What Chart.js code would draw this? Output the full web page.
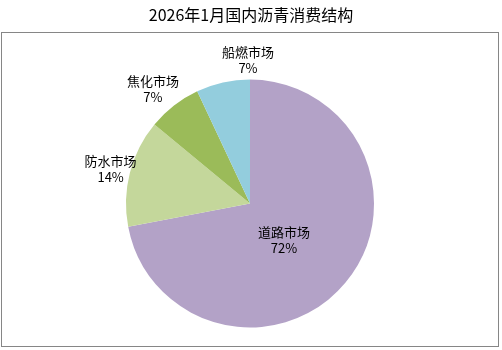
<!DOCTYPE html>
<html>
<head>
<meta charset="utf-8">
<script src="https://cdn.jsdelivr.net/npm/chart.js@4"></script>
<style>
  body { margin: 0; background: #fff; }
  canvas { display: block; }
</style>
</head>
<body>
<canvas id="pieChart" width="502" height="350"></canvas>
<script>
// Data
const TITLE = '2026年1月国内沥青消费结构';
const categories = ['道路市场', '防水市场', '焦化市场', '船燃市场'];
const shares = [72, 14, 7, 7];
const colors = ['#b3a2c7', '#c4d79b', '#9bbb59', '#93cddd'];

// Label placement per slice: distance from centre (x outer radius) and angle nudge (deg)
const labelPlacement = [
    { r: 0.405, shift: 7.8 },
    { r: 1.157, shift: -0.7 },
    { r: 1.21, shift: -2.5 },
    { r: 1.157, shift: 11.8 }
];

const CJK_FONT = '"Noto Sans CJK SC", "Microsoft YaHei", sans-serif';

// Frame, title and slice labels
const decorations = {
    id: 'decorations',
    beforeDraw(chart) {
        const ctx = chart.ctx;
        ctx.save();
        ctx.fillStyle = '#fff';
        ctx.fillRect(0, 0, chart.width, chart.height);
        ctx.strokeStyle = '#868686';
        ctx.lineWidth = 1;
        ctx.strokeRect(1.5, 32.5, 497, 314);
        ctx.fillStyle = '#000';
        ctx.font = '16px ' + CJK_FONT;
        ctx.textAlign = 'center';
        ctx.textBaseline = 'middle';
        ctx.fillText(TITLE, 251, 15);
        ctx.restore();
    },
    afterDatasetsDraw(chart) {
        const ctx = chart.ctx;
        const arcs = chart.getDatasetMeta(0).data;
        ctx.save();
        ctx.fillStyle = '#000';
        ctx.font = '13px ' + CJK_FONT;
        ctx.textAlign = 'center';
        ctx.textBaseline = 'middle';
        arcs.forEach((arc, i) => {
            const p = labelPlacement[i];
            const mid = (arc.startAngle + arc.endAngle) / 2 + p.shift * Math.PI / 180;
            const x = arc.x + Math.cos(mid) * arc.outerRadius * p.r;
            const y = arc.y + Math.sin(mid) * arc.outerRadius * p.r;
            ctx.fillText(categories[i], x, y - 8);
            ctx.fillText(shares[i] + '%', x, y + 8);
        });
        ctx.restore();
    }
};

new Chart(document.getElementById('pieChart'), {
    type: 'pie',
    data: {
        labels: categories,
        datasets: [{
            data: shares,
            backgroundColor: colors,
            borderWidth: 0
        }]
    },
    options: {
        responsive: false,
        animation: false,
        layout: {
            padding: { top: 79.5, bottom: 22.5, left: 126, right: 128 }
        },
        plugins: {
            legend: { display: false },
            tooltip: { enabled: false }
        }
    },
    plugins: [decorations]
});
</script>
</body>
</html>
